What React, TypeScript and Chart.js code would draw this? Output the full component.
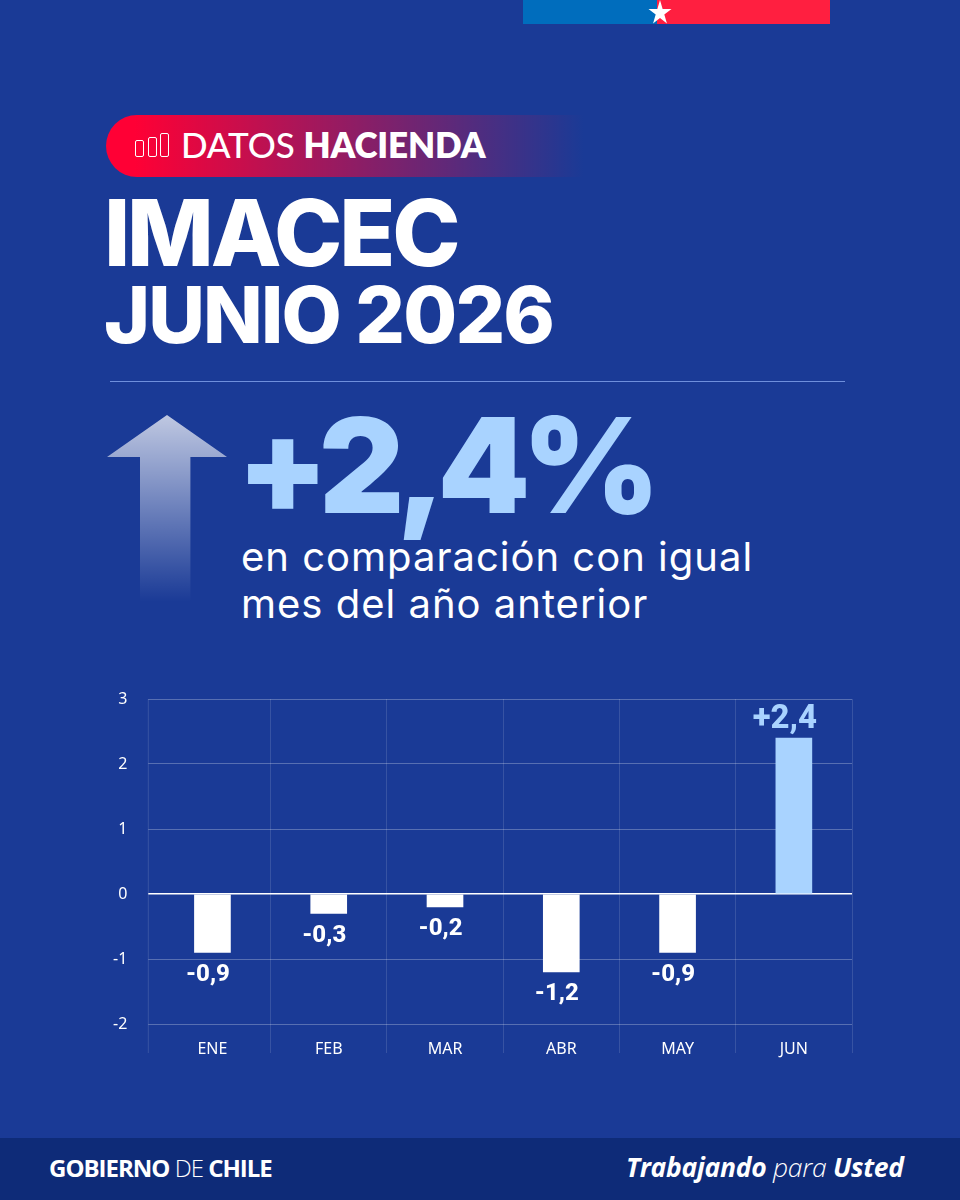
import React, { useEffect, useRef } from 'react';
import { Chart, registerables } from 'chart.js';

Chart.register(...registerables);

const months = ['ENE', 'FEB', 'MAR', 'ABR', 'MAY', 'JUN'];
const imacecValues = [-0.9, -0.3, -0.2, -1.2, -0.9, 2.4];
const valueLabels = ['-0,9', '-0,3', '-0,2', '-1,2', '-0,9', '+2,4'];
const yMin = -2;
const yMax = 3;

const WHITE = '#ffffff';
const LIGHT_BLUE = '#a9d3ff';
const barColors = [WHITE, WHITE, WHITE, WHITE, WHITE, LIGHT_BLUE];
const labelColors = barColors;

// etiquetas de valor, van un poco corridas a la izquierda de cada barra
const valueLabelPlugin = {
  id: 'valueLabels',
  afterDatasetsDraw(chart: any) {
    const { ctx } = chart;
    const bars = chart.getDatasetMeta(0).data;
    ctx.save();
    ctx.textAlign = 'center';
    ctx.textBaseline = 'middle';
    bars.forEach((bar: any, i: number) => {
      const up = imacecValues[i] > 0;
      ctx.font = up ? '800 33px Roboto' : '800 24px Roboto';
      ctx.fillStyle = labelColors[i];
      ctx.fillText(valueLabels[i], bar.x - (up ? 9 : 4.5), bar.y + (up ? -18 : 22));
    });
    ctx.restore();
  },
};

// primera linea vertical, queda a la izquierda del area del grafico
const leftLinePlugin = {
  id: 'leftLine',
  beforeDatasetsDraw(chart: any) {
    const { ctx, chartArea } = chart;
    ctx.save();
    ctx.strokeStyle = 'rgba(255,255,255,0.13)';
    ctx.lineWidth = 1;
    ctx.beginPath();
    ctx.moveTo(chartArea.left - 6, chartArea.top);
    ctx.lineTo(chartArea.left - 6, chartArea.bottom + 29);
    ctx.stroke();
    ctx.restore();
  },
};

const ImacecChart: React.FC = () => {
  const chartRef = useRef<HTMLCanvasElement>(null);

  useEffect(() => {
    if (!chartRef.current) return;
    const chart = new Chart(chartRef.current, {
      type: 'bar',
      data: {
        labels: months,
        datasets: [
          {
            data: imacecValues,
            backgroundColor: barColors,
            barThickness: 36,
          },
        ],
      },
      options: {
        responsive: false,
        animation: false,
        layout: { autoPadding: false, padding: { left: 0, right: 48, top: 19, bottom: 0 } },
        plugins: {
          legend: { display: false },
          tooltip: { enabled: false },
        },
        scales: {
          x: {
            afterFit: (scale: any) => {
              scale.height = 46;
              scale.paddingLeft = 0;
              scale.paddingRight = 0;
            },
            border: { display: false },
            grid: {
              color: (c: any) => (c.index === 0 ? 'transparent' : 'rgba(255,255,255,0.13)'),
              tickLength: 29,
            },
            ticks: {
              color: WHITE,
              padding: -13,
              maxRotation: 0,
              font: { family: 'Noto Sans', size: 16 },
            },
          },
          y: {
            min: yMin,
            max: yMax,
            afterFit: (scale: any) => {
              scale.width = 54.3;
              scale.paddingTop = 0;
              scale.paddingBottom = 0;
            },
            border: { display: false },
            grid: {
              color: (c: any) => (c.tick.value === 0 ? WHITE : 'rgba(255,255,255,0.27)'),
              lineWidth: (c: any) => (c.tick.value === 0 ? 1.5 : 1),
              tickLength: 6,
            },
            ticks: {
              stepSize: 1,
              color: WHITE,
              padding: 21,
              font: { family: 'Noto Sans', size: 16 },
            },
          },
        },
      },
      plugins: [valueLabelPlugin, leftLinePlugin],
    });
    return () => chart.destroy();
  }, []);

  return (
    <canvas
      ref={chartRef}
      width={800}
      height={390}
      style={{ position: 'absolute', left: 100, top: 680, width: 800, height: 390 }}
    />
  );
};

const abs = (left: number, top: number, extra: React.CSSProperties): React.CSSProperties => ({
  position: 'absolute',
  left,
  top,
  whiteSpace: 'nowrap',
  ...extra,
});

export default function App() {
  useEffect(() => {
    document.body.style.margin = '0';
  }, []);

  return (
    <div style={{ position: 'absolute', left: 0, top: 0, width: 960, height: 1200, overflow: 'hidden', background: '#1a3a96', color: WHITE }}>
      {/* bandera */}
      <div style={abs(523, 0, { width: 134, height: 24, background: '#006dbd' })} />
      <div style={abs(657, 0, { width: 173, height: 24, background: '#ff1f40' })} />
      <div
        style={abs(648, 0, {
          width: 24,
          height: 25,
          background: WHITE,
          clipPath: 'polygon(50% 0%,61% 36%,98% 36%,68% 58%,79% 94%,50% 72%,21% 94%,32% 58%,2% 36%,39% 36%)',
        })}
      />

      {/* encabezado */}
      <div
        style={abs(106, 115, {
          width: 478,
          height: 62,
          borderRadius: '31px 0 0 31px',
          background: 'linear-gradient(90deg, #ff0035 0%, #ff0035 6%, rgba(255,0,53,0) 100%)',
        })}
      />
      {[
        [135, 140, 17],
        [148, 137, 20],
        [160, 133, 24],
      ].map(([x, y, h]) => (
        <div
          key={x}
          style={abs(x, y, {
            width: 9,
            height: h,
            border: '1.5px solid #fff',
            borderRadius: 2,
            boxSizing: 'border-box',
          })}
        />
      ))}
      <div style={abs(181, 123, { fontFamily: 'Lato', fontSize: 35, lineHeight: '42px', fontWeight: 500, letterSpacing: -0.1 })}>
        DATOS <span style={{ fontWeight: 800 }}>HACIENDA</span>
      </div>
      <div style={abs(104, 178, { fontFamily: 'Inter', fontSize: 92, lineHeight: '110px', fontWeight: 800, letterSpacing: -3.2 })}>IMACEC</div>
      <div style={abs(104, 268, { fontFamily: 'Inter', fontSize: 78, lineHeight: '94px', fontWeight: 800, letterSpacing: -1.8 })}>JUNIO 2026</div>
      <div style={abs(110, 381, { width: 735, height: 1, background: '#6f8fdc' })} />

      {/* flecha y variacion */}
      <div
        style={abs(107, 415, {
          width: 120,
          height: 187,
          background: 'linear-gradient(180deg, rgba(255,255,255,0.72) 0%, rgba(255,255,255,0) 100%)',
          clipPath: 'polygon(50% 0%,100% 22.5%,69.5% 22.5%,69.5% 100%,27.5% 100%,27.5% 22.5%,0% 22.5%)',
        })}
      />
      <div style={abs(237, 385, { fontFamily: 'Inter', fontSize: 132, lineHeight: '160px', fontWeight: 900, color: LIGHT_BLUE, letterSpacing: -8 })}>+2,4%</div>
      <div style={abs(241, 533, { fontFamily: 'Inter', fontSize: 40, lineHeight: '47px', fontWeight: 400, letterSpacing: 1 })}>
        en comparación con igual
        <br />
        mes del año anterior
      </div>

      <ImacecChart />

      {/* pie */}
      <div style={abs(0, 1138, { width: 960, height: 62, background: '#0e2b78' })} />
      <div style={abs(49, 1153, { fontFamily: 'Open Sans', fontSize: 24, lineHeight: '30px', fontWeight: 700, letterSpacing: -1 })}>
        GOBIERNO <span style={{ fontWeight: 300 }}>DE</span> CHILE
      </div>
      <div style={abs(626, 1150, { fontFamily: 'Open Sans', fontStyle: 'italic', fontSize: 26.5, lineHeight: '34px', fontWeight: 700, letterSpacing: -0.3 })}>
        Trabajando <span style={{ fontWeight: 300 }}>para</span> Usted
      </div>
    </div>
  );
}
